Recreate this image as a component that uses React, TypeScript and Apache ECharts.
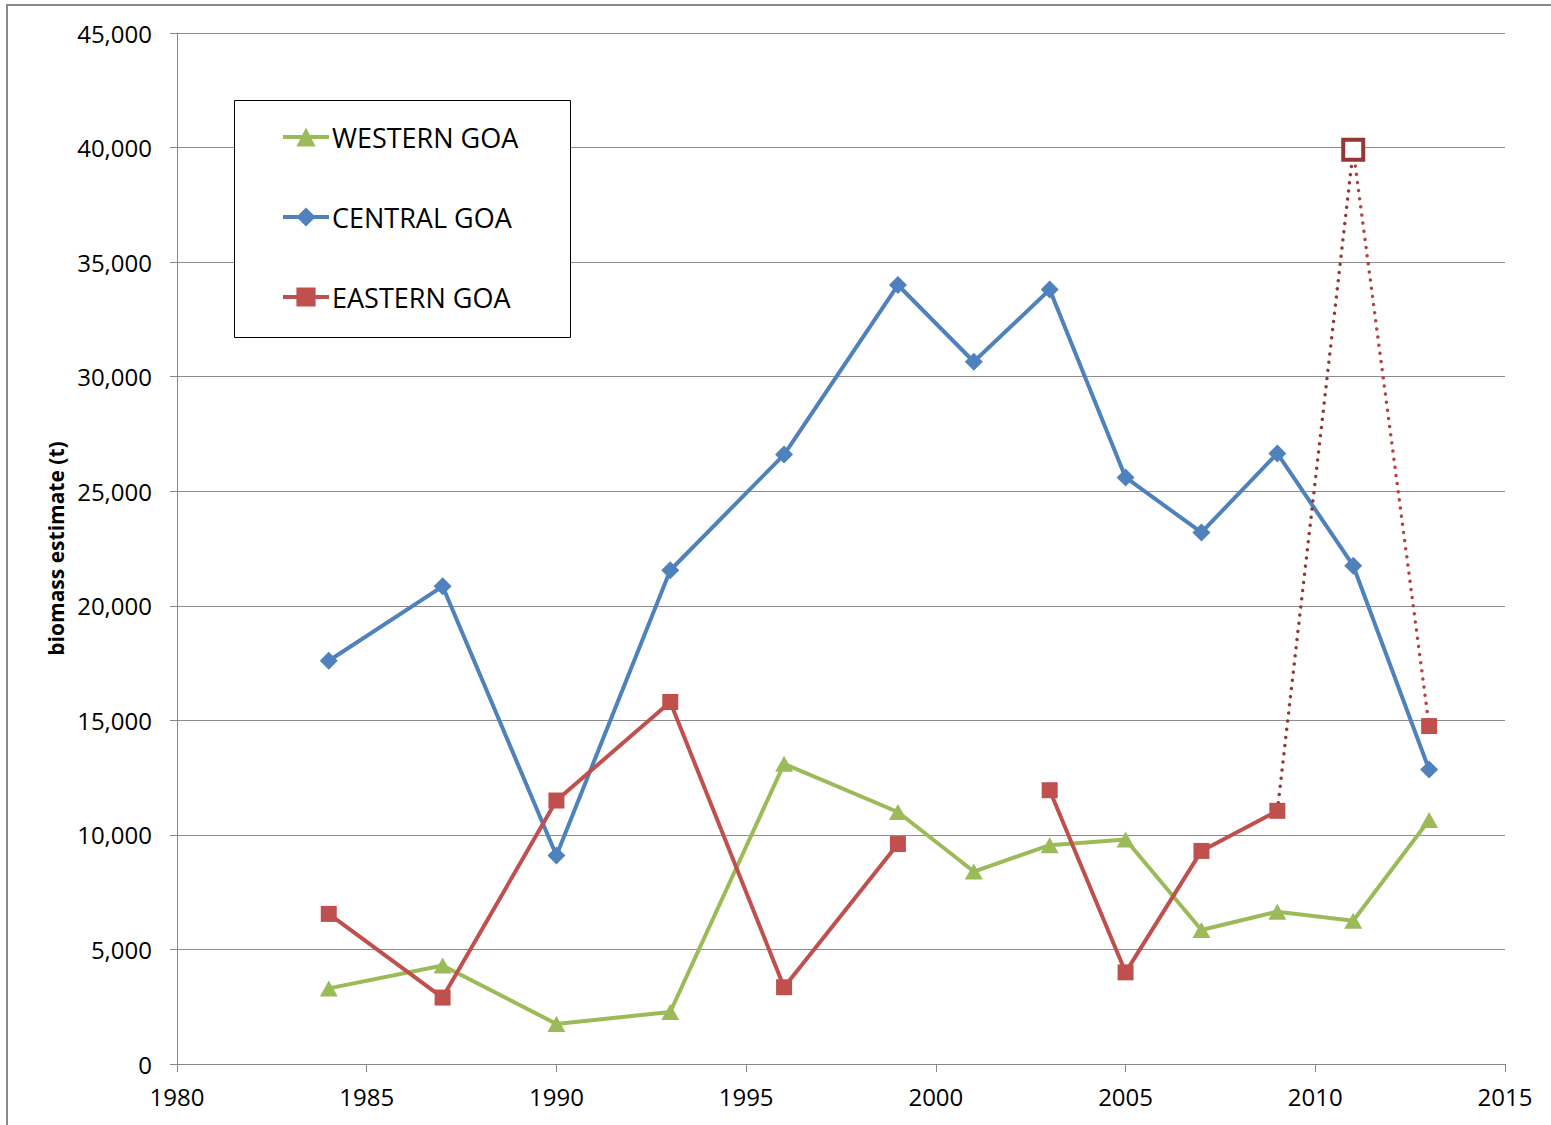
import React, { useEffect, useRef } from "react";
import * as echarts from "echarts";

const years = [1984, 1987, 1990, 1993, 1996, 1999, 2001, 2003, 2005, 2007, 2009, 2011, 2013];
const western = [3300, 4300, 1750, 2270, 13100, 11000, 8400, 9550, 9800, 5850, 6650, 6250, 10650];
const central = [17600, 20850, 9100, 21550, 26600, 34000, 30650, 33800, 25600, 23200, 26650, 21750, 12850];
const eastern: (number | null)[] = [6550, 2900, 11500, 15800, 3350, 9600, null, 11950, 4000, 9300, 11050, 39900, 14750];
const easternSolidLastYear = 2009;
const seriesNames = ["WESTERN GOA", "CENTRAL GOA", "EASTERN GOA"];
const xTicks = { min: 1980, max: 2015, interval: 5 };
const yTicks = { min: 0, max: 45000, interval: 5000 };

const FONT = "'Open Sans', sans-serif";
const GREEN = "#9BBB59";
const BLUE = "#4F81BD";
const RED = "#C0504D";
const DARK_RED = "#953735";

export default function App() {
  const ref = useRef<HTMLDivElement>(null);
  useEffect(() => {
    if (!ref.current) return;
    const chart = echarts.init(ref.current, undefined, { renderer: "svg" });
    const pairs = (vals: (number | null)[]) => years.map((y, i) => [y, vals[i]]);
    const eastSolid = years
      .map((y, i) => [y, eastern[i]])
      .filter((p) => (p[0] as number) <= easternSolidLastYear);
    const idx2009 = years.indexOf(easternSolidLastYear);
    const idx2011 = idx2009 + 1;
    const idx2013 = idx2009 + 2;
    const dotted = { width: 3.5, type: [0.01, 8.2], cap: "round" };
    const LW = 4;

    chart.setOption({
      animation: false,
      backgroundColor: "#fff",
      textStyle: { fontFamily: FONT },
      grid: { left: 177, right: 46, top: 33, bottom: 61, containLabel: false },
      graphic: [
        {
          type: "rect",
          z: 0,
          shape: { x: 7, y: 5, width: 1600, height: 1200 },
          style: { fill: "none", stroke: "#8a8a8a", lineWidth: 2 },
          silent: true,
        },
        {
          type: "rect",
          z: 10,
          shape: { x: 234.5, y: 100.5, width: 336, height: 237 },
          style: { fill: "#fff", stroke: "#000", lineWidth: 1 },
          silent: true,
        },
      ],
      legend: {
        z: 20,
        orient: "vertical",
        left: 281,
        top: 122,
        padding: 0,
        itemGap: 50,
        itemWidth: 46,
        itemHeight: 24,
        data: seriesNames,
        lineStyle: { width: 4 },
        textStyle: { fontFamily: FONT, fontSize: 27, color: "#000", lineHeight: 30, padding: [0, 0, 0, -2] },
      },
      xAxis: {
        type: "value",
        min: xTicks.min,
        max: xTicks.max,
        interval: xTicks.interval,
        axisLine: { show: true, lineStyle: { color: "#868686", width: 1 } },
        axisTick: { show: true, length: 8, lineStyle: { color: "#868686" } },
        splitLine: { show: false },
        axisLabel: {
          fontFamily: FONT,
          fontSize: 24,
          color: "#000",
          margin: 20,
          formatter: (v: number) => String(v),
        },
      },
      yAxis: {
        type: "value",
        min: yTicks.min,
        max: yTicks.max,
        interval: yTicks.interval,
        name: "biomass estimate (t)",
        nameLocation: "middle",
        nameGap: 110,
        nameTextStyle: { fontFamily: FONT, fontSize: 21, fontWeight: "bold", color: "#000" },
        axisLine: { show: true, lineStyle: { color: "#868686", width: 1 } },
        axisTick: { show: true, length: 7, lineStyle: { color: "#868686" } },
        splitLine: { show: true, lineStyle: { color: "#8c8c8c", width: 1 } },
        axisLabel: {
          fontFamily: FONT,
          fontSize: 24,
          color: "#000",
          margin: 25,
          formatter: (v: number) => v.toLocaleString("en-US"),
        },
      },
      series: [
        {
          name: seriesNames[0],
          type: "line",
          data: pairs(western),
          symbol: "triangle",
          symbolSize: [18, 16],
          lineStyle: { color: GREEN, width: LW },
          itemStyle: { color: GREEN },
          z: 3,
        },
        {
          name: seriesNames[1],
          type: "line",
          data: pairs(central),
          symbol: "diamond",
          symbolSize: 18,
          lineStyle: { color: BLUE, width: LW },
          itemStyle: { color: BLUE },
          z: 4,
        },
        {
          name: seriesNames[2],
          type: "line",
          data: eastSolid,
          connectNulls: false,
          symbol: "rect",
          symbolSize: 16,
          lineStyle: { color: RED, width: LW },
          itemStyle: { color: RED },
          z: 5,
        },
        {
          name: "eastern-dotted-a",
          type: "line",
          data: [
            [years[idx2009], eastern[idx2009]],
            [years[idx2011], eastern[idx2011]],
          ],
          symbol: "none",
          lineStyle: { color: DARK_RED, ...dotted },
          z: 5,
        },
        {
          name: "eastern-dotted-b",
          type: "line",
          data: [
            { value: [years[idx2011], eastern[idx2011]], symbol: "none" },
            {
              value: [years[idx2013], eastern[idx2013]],
              symbol: "rect",
              symbolSize: 16,
              itemStyle: { color: RED },
            },
          ],
          symbol: "none",
          lineStyle: { color: "#B8423F", ...dotted },
          z: 5,
        },
        {
          name: "eastern-2011",
          type: "line",
          data: [[years[idx2011], eastern[idx2011]]],
          symbol: "rect",
          symbolSize: 20,
          lineStyle: { width: 0 },
          itemStyle: { color: "#fff", borderColor: DARK_RED, borderWidth: 4 },
          z: 6,
        },
      ],
    });
    return () => chart.dispose();
  }, []);
  return (
    <div
      ref={ref}
      style={{ position: "absolute", left: 0, top: 0, width: 1551, height: 1125 }}
    />
  );
}
